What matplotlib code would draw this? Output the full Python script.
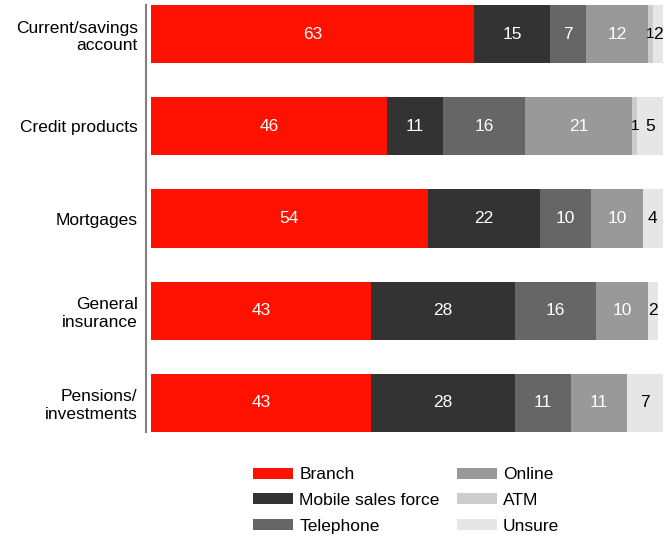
import matplotlib
matplotlib.use('Agg')
import matplotlib.pyplot as plt
import numpy as np

plt.rcParams['font.family'] = ['Liberation Sans', 'DejaVu Sans']

products = ['Current/savings\naccount', 'Credit products', 'Mortgages',
            'General\ninsurance', 'Pensions/\ninvestments']
channels = ['Branch', 'Mobile sales force', 'Telephone', 'Online', 'ATM', 'Unsure']
branch = [63, 46, 54, 43, 43]
mobile = [15, 11, 22, 28, 28]
telephone = [7, 16, 10, 16, 11]
online = [12, 21, 10, 10, 11]
atm = [1, 1, 0, 0, 0]
unsure = [2, 5, 4, 2, 7]

colors = ['#ff1100', '#333333', '#666666', '#999999', '#cccccc', '#e6e6e6']
text_colors = ['white', 'white', 'white', 'white', 'black', 'black']

series = [branch, mobile, telephone, online, atm, unsure]

fig = plt.figure(figsize=(6.71, 5.37), dpi=100)
ax = fig.add_axes([146 / 671, 1 - 432 / 537, 517 / 671, 427 / 537])

y = np.arange(len(products))
left = np.zeros(len(products))
for vals, name, c, tc in zip(series, channels, colors, text_colors):
    vals = np.array(vals, dtype=float)
    ax.barh(y, vals, left=left, height=0.63, color=c, label=name)
    for yi, (l, v) in enumerate(zip(left, vals)):
        if v > 0:
            # tiny segments get a smaller label so neighbours don't collide
            fs = 12.5 if v >= 2 else 11
            ax.text(l + v / 2, yi, f'{int(v)}', ha='center', va='center',
                    color=tc, fontsize=fs)
    left += vals

ax.set_xlim(-1, 100)
ax.set_ylim(len(products) - 1 + 0.315, -0.315)
ax.set_yticks(y)
ax.set_yticklabels(products, fontsize=12.5, linespacing=1.2)
ax.tick_params(axis='y', length=0, pad=6)
ax.set_xticks([])
for s in ['top', 'right', 'bottom']:
    ax.spines[s].set_visible(False)
ax.spines['left'].set_color('#808080')
ax.spines['left'].set_linewidth(1.5)

fig.legend(loc='upper left', bbox_to_anchor=(241 / 671, 1 - 455 / 537), ncol=2,
           frameon=False, fontsize=12.5, handlelength=2.3, handleheight=0.6,
           columnspacing=1.0, labelspacing=0.62, handletextpad=0.35,
           borderpad=0.2)

plt.savefig('out.png', dpi=100)
